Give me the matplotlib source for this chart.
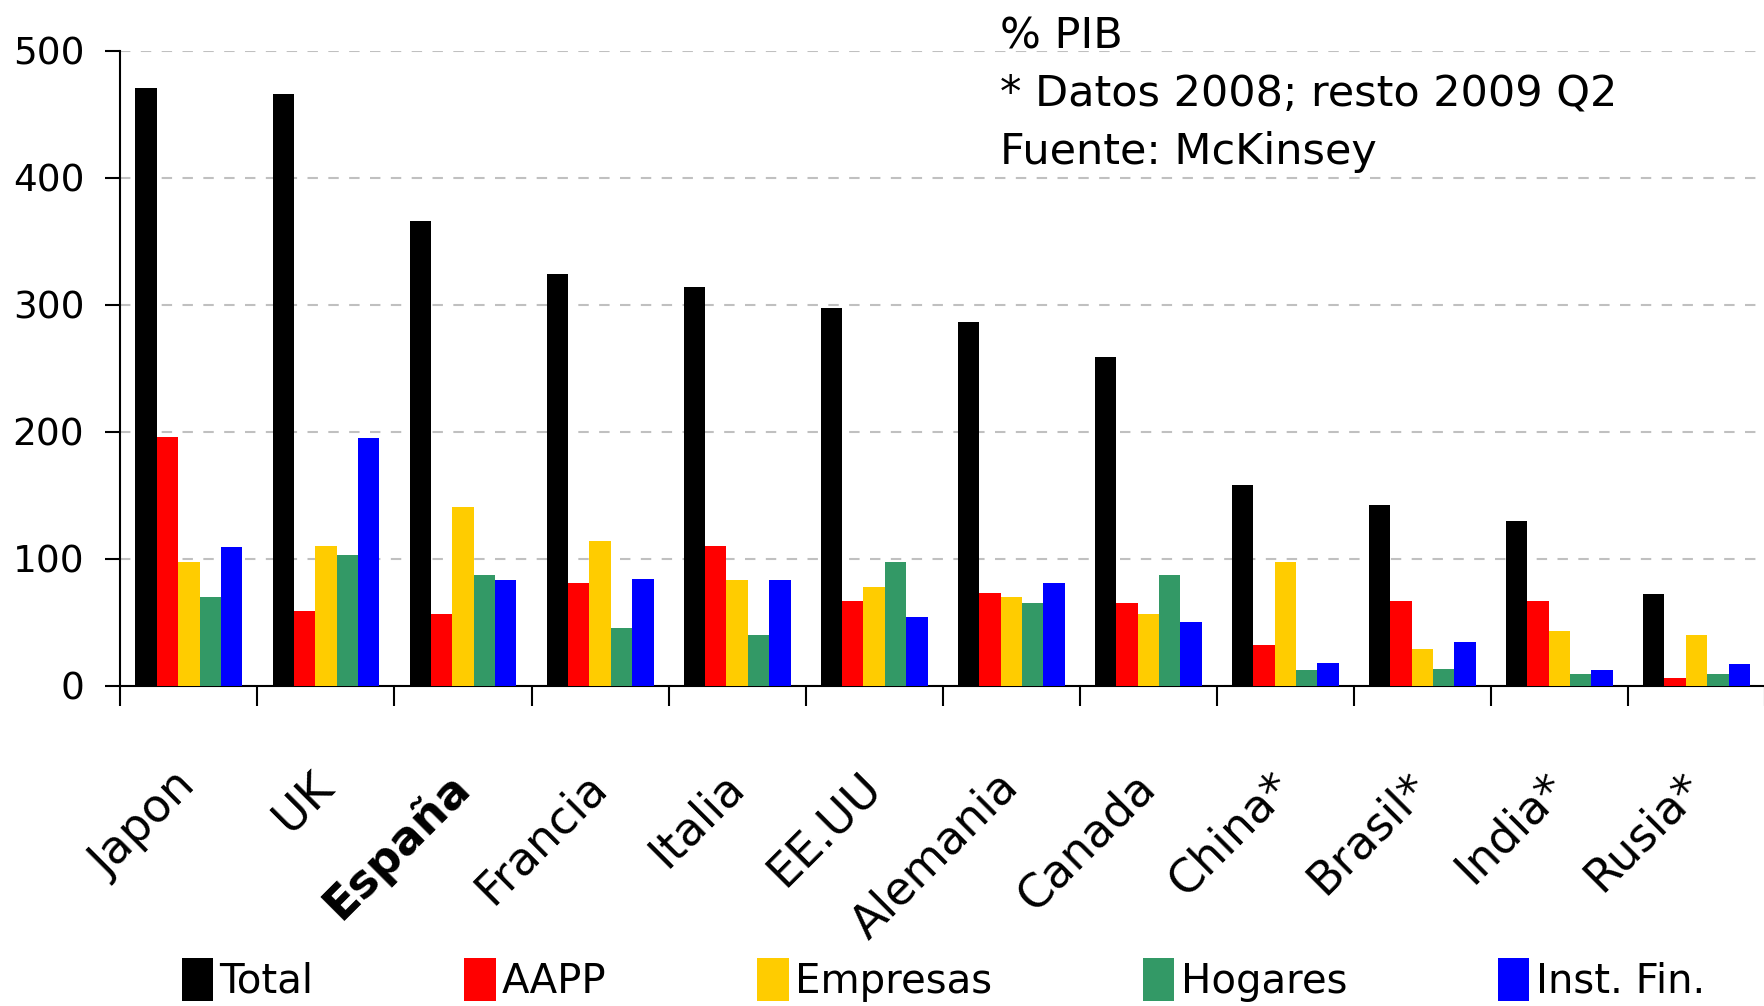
import numpy as np
import matplotlib
matplotlib.use("Agg")
import matplotlib.pyplot as plt

paises = ["Japon", "UK", "España", "Francia", "Italia", "EE.UU", "Alemania",
          "Canada", "China*", "Brasil*", "India*", "Rusia*"]
series = ["Total", "AAPP", "Empresas", "Hogares", "Inst. Fin."]

total    = [471, 466, 366, 324, 314, 297, 286, 259, 158, 142, 130, 72]
aapp     = [196, 59, 56, 81, 110, 67, 73, 65, 32, 67, 67, 6]
empresas = [97, 110, 141, 114, 83, 78, 70, 56, 97, 29, 43, 40]
hogares  = [70, 103, 87, 45, 40, 97, 65, 87, 12, 13, 9, 9]
inst_fin = [109, 195, 83, 84, 83, 54, 81, 50, 18, 34, 12, 17]

colores = ["#000000", "#ff0000", "#ffcc00", "#339966", "#0000ff"]
nota = "% PIB\n* Datos 2008; resto 2009 Q2\nFuente: McKinsey"

fig = plt.figure(figsize=(17.65, 10.06), dpi=100)
ax = fig.add_axes([0.0682, 0.3185, 0.9318, 0.6311])

x = np.arange(len(paises))
w = 0.156
datos = [total, aapp, empresas, hogares, inst_fin]
for i, (vals, col, nom) in enumerate(zip(datos, colores, series)):
    ax.bar(x + (i - 2) * w, vals, width=w, color=col, label=nom, zorder=3)

ax.set_xlim(-0.5, len(paises) - 0.5)
ax.set_ylim(0, 500)
ax.set_yticks([0, 100, 200, 300, 400, 500])
ax.grid(axis="y", color="#c0c0c0", linestyle=(0, (5, 5)), linewidth=1.5, zorder=0)

ax.spines["top"].set_visible(False)
ax.spines["right"].set_visible(False)
ax.spines["left"].set_linewidth(1.5)
ax.spines["bottom"].set_linewidth(1.5)

ax.tick_params(axis="y", direction="out", length=11, width=1.5, pad=15, labelsize=27)

# marcas entre paises
ax.set_xticks(np.arange(len(paises) + 1) - 0.5, minor=True)
ax.tick_params(axis="x", which="minor", direction="out", length=14.5, width=1.5)
ax.set_xticks(x)
ax.set_xticklabels(paises, rotation=45, ha="right", va="center",
                   rotation_mode="anchor", fontsize=33)
ax.tick_params(axis="x", which="major", length=0, pad=68)
ax.get_xticklabels()[2].set_fontweight("bold")

fig.text(0.5666, 0.985, nota, va="top", ha="left", fontsize=31, linespacing=1.48)

fig.legend(loc="lower left", bbox_to_anchor=(0.103, 0.004), ncol=5, frameon=False,
           prop={"size": 29}, handlelength=0.78, handleheight=1.25,
           handletextpad=0.15, columnspacing=3.75, borderpad=0, borderaxespad=0)

fig.savefig("out.png", dpi=100)
